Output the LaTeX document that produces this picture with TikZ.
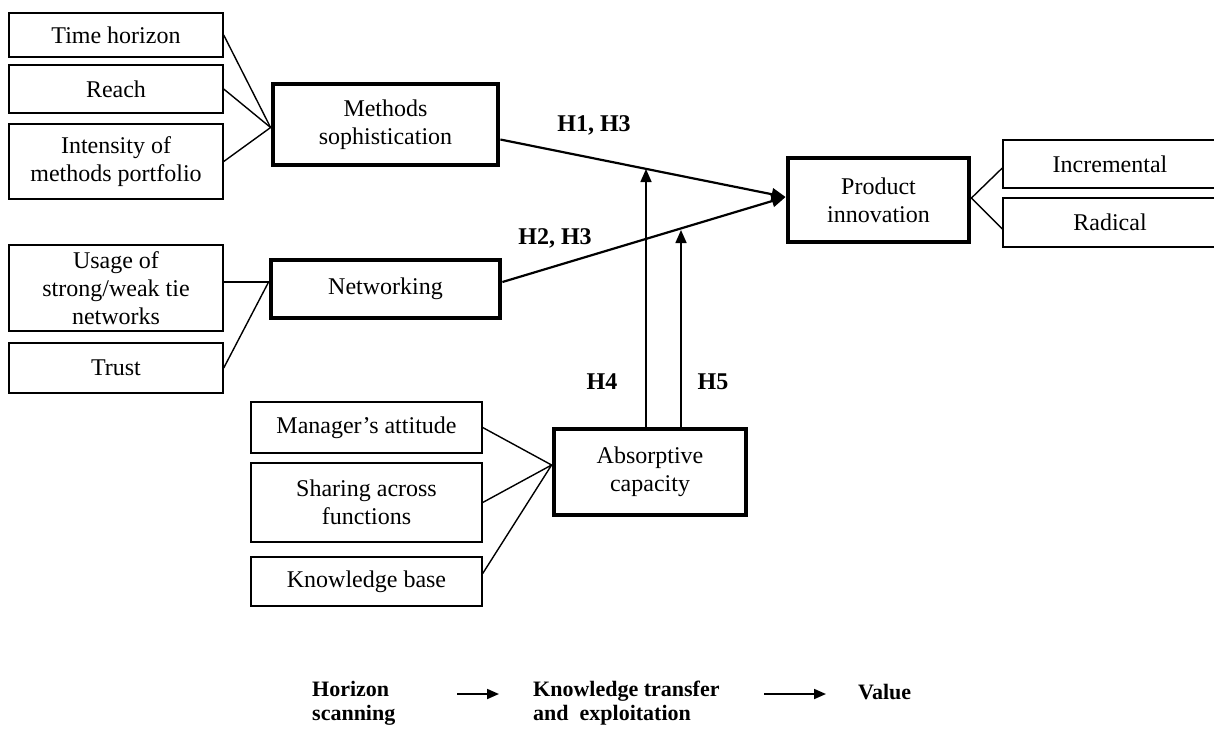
\documentclass[tikz,border=0pt]{standalone}
\usepackage{fontspec}
\setmainfont{Liberation Serif}
\usetikzlibrary{arrows.meta}
\begin{document}
\begin{tikzpicture}[x=1pt,y=-1pt,
  box/.style={draw, line width=1.4pt, inner sep=0pt, align=center, font=\fontsize{24}{28}\selectfont},
  kbox/.style={box, line width=4.8pt},
  lnk/.style={line width=1.4pt},
  main/.style={line width=2.2pt, -{Triangle[length=14pt,width=12pt]}},
  mod/.style={line width=1.6pt, -{Triangle[length=13pt,width=11pt]}},
  flow/.style={line width=1.8pt, -{Triangle[length=12pt,width=10pt]}},
  hl/.style={font=\fontsize{24}{28}\selectfont\bfseries, inner sep=0pt},
  ft/.style={font=\fontsize{22}{24}\selectfont\bfseries, align=left, inner sep=0pt, anchor=west},
  ]
\useasboundingbox (0,0) rectangle (1214,729);
% left group 1
\node[box, minimum width=214pt, minimum height=44pt] (th) at (116,35) {Time horizon};
\node[box, minimum width=214pt, minimum height=48pt] (re) at (116,89) {Reach};
\node[box, minimum width=214pt, minimum height=75pt] (io) at (116,161.5) {Intensity of\\methods portfolio};
\node[kbox, minimum width=225pt, minimum height=81pt] (ms) at (385.5,124.5) {Methods\\sophistication};
% left group 2
\node[box, minimum width=214pt, minimum height=86pt] (us) at (116,288) {Usage of\\strong/weak tie\\networks};
\node[box, minimum width=214pt, minimum height=50pt] (tr) at (116,368) {Trust};
\node[kbox, minimum width=229pt, minimum height=58pt] (nw) at (385.5,289) {Networking};
% lower group
\node[box, minimum width=231pt, minimum height=51pt] (ma) at (366.5,427.5) {Manager’s attitude};
\node[box, minimum width=231pt, minimum height=79pt] (sh) at (366.5,502.5) {Sharing across\\functions};
\node[box, minimum width=231pt, minimum height=49pt] (kb) at (366.5,581.5) {Knowledge base};
\node[kbox, minimum width=192pt, minimum height=86pt] (ac) at (650,472) {Absorptive\\capacity};
% outcome
\node[kbox, minimum width=181pt, minimum height=84pt] (pi) at (878.5,200) {Product\\innovation};
\node[box, minimum width=214pt, minimum height=48pt] (inc) at (1110,164) {Incremental};
\node[box, minimum width=214pt, minimum height=49pt] (rad) at (1110,222.5) {Radical};
% connectors
\draw[lnk] (th.east) -- ([yshift=-3pt]ms.west);
\draw[lnk] (re.east) -- ([yshift=-3pt]ms.west);
\draw[lnk] (io.east) -- ([yshift=-3pt]ms.west);
\draw[lnk] ([yshift=6pt]us.east) -- ([yshift=7pt]nw.west);
\draw[lnk] (tr.east) -- ([yshift=7pt]nw.west);
\draw[lnk] (ma.east) -- ([yshift=7pt]ac.west);
\draw[lnk] (sh.east) -- ([yshift=7pt]ac.west);
\draw[lnk] ([yshift=8pt]kb.east) -- ([yshift=7pt]ac.west);
\draw[lnk] ([yshift=2pt]pi.east) -- ([yshift=-4pt]inc.west);
\draw[lnk] ([yshift=2pt]pi.east) -- ([yshift=-6.5pt]rad.west);
\draw[main] ([yshift=-15pt]ms.east) -- ([yshift=3pt]pi.west);
\draw[main] ([yshift=7pt]nw.east) -- ([yshift=3pt]pi.west);
\coordinate (t4) at (646,169);
\coordinate (t5) at (681,230);
\draw[mod] (ac.north -| t4) -- (t4);
\draw[mod] (ac.north -| t5) -- (t5);
% labels
\node[hl] (l13) at (594,125) {H1, H3};
\node[hl] (l23) at (555,238) {H2, H3};
\node[hl] (l4) at (602,382) {H4};
\node[hl] (l5) at (713,382) {H5};
% bottom flow
\node[ft] (hs) at (312,703) {Horizon\\scanning};
\node[ft] (kt) at (533,703) {Knowledge transfer\\and\ \ exploitation};
\node[ft] (va) at (858,692) {Value};
\coordinate (a1s) at (457,694);
\coordinate (a1e) at (499,694);
\coordinate (a2s) at (764,694);
\coordinate (a2e) at (826,694);
\draw[flow] (a1s) -- (a1e);
\draw[flow] (a2s) -- (a2e);
\end{tikzpicture}
\end{document}
